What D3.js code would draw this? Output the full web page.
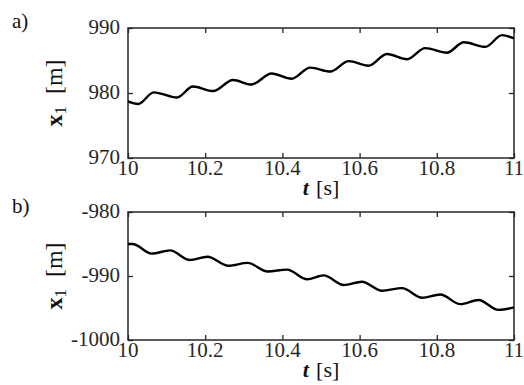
<!DOCTYPE html>
<html>
<head>
<meta charset="utf-8">
<script src="https://cdn.jsdelivr.net/npm/d3@7"></script>
<style>
  html, body { margin: 0; padding: 0; background: #fff; }
  svg { display: block; font-family: "Liberation Serif", "DejaVu Serif", serif; }
</style>
</head>
<body>
<svg id="chart" width="524" height="385"></svg>
<script>
// time samples (s) and position x1 (m)
const tA = [10.000, 10.026, 10.067, 10.127, 10.168, 10.221, 10.272, 10.320, 10.372, 10.424, 10.472,
            10.524, 10.572, 10.623, 10.671, 10.723, 10.770, 10.826, 10.870, 10.926, 10.969, 11.000];
const xA = [978.7, 978.3, 980.1, 979.3, 981.0, 980.3, 982.0, 981.3, 983.0, 982.2, 983.9,
            983.3, 984.9, 984.2, 986.0, 985.2, 986.9, 986.2, 987.8, 987.1, 988.9, 988.4];

const tB = [10.000, 10.012, 10.061, 10.109, 10.160, 10.206, 10.260, 10.310, 10.362, 10.412, 10.464,
            10.507, 10.559, 10.606, 10.658, 10.710, 10.762, 10.809, 10.861, 10.908, 10.960, 11.000];
const xB = [-985.0, -985.0, -986.5, -986.0, -987.5, -987.0, -988.4, -987.95, -989.3, -989.0, -990.5,
            -989.9, -991.4, -990.9, -992.3, -991.9, -993.4, -992.9, -994.4, -993.75, -995.3, -994.9];

const xTicks = [10, 10.2, 10.4, 10.6, 10.8, 11];
const yTicksA = [970, 980, 990];
const yTicksB = [-1000, -990, -980];

const svg = d3.select('#chart');

function panel(top, bottom, t, x, yDomain, yTicks, tag) {
  const left = 128, right = 514;
  const xs = d3.scaleLinear().domain([10, 11]).range([left, right]);
  const ys = d3.scaleLinear().domain(yDomain).range([bottom, top]);
  const g = svg.append('g');

  // inward ticks on all four sides
  const tickLen = 5;
  g.append('g').attr('transform', `translate(0,${bottom})`)
    .call(d3.axisTop(xs).tickValues(xTicks).tickSizeInner(tickLen).tickSizeOuter(0).tickFormat(''));
  g.append('g').attr('transform', `translate(0,${top})`)
    .call(d3.axisBottom(xs).tickValues(xTicks).tickSizeInner(tickLen).tickSizeOuter(0).tickFormat(''));
  g.append('g').attr('transform', `translate(${left},0)`)
    .call(d3.axisRight(ys).tickValues(yTicks).tickSizeInner(tickLen).tickSizeOuter(0).tickFormat(''));
  g.append('g').attr('transform', `translate(${right},0)`)
    .call(d3.axisLeft(ys).tickValues(yTicks).tickSizeInner(tickLen).tickSizeOuter(0).tickFormat(''));
  g.selectAll('.domain').remove();
  g.selectAll('.tick line').attr('stroke', '#262626').attr('stroke-width', 1.3);

  // frame
  g.append('rect').attr('x', left).attr('y', top).attr('width', right - left).attr('height', bottom - top)
    .attr('fill', 'none').attr('stroke', '#262626').attr('stroke-width', 1.5);

  // tick labels
  g.selectAll('.xl').data(xTicks).enter().append('text')
    .attr('x', d => xs(d)).attr('y', bottom + 17)
    .attr('text-anchor', 'middle').style('font-size', '21px').attr('fill', '#262626')
    .text(d => d3.format('~g')(d));
  g.selectAll('.yl').data(yTicks).enter().append('text')
    .attr('x', left - 8).attr('y', d => ys(d)).attr('dy', '0.3em')
    .attr('text-anchor', 'end').style('font-size', '21px').attr('fill', '#262626')
    .text(d => d);

  // data line
  const line = d3.line().x(d => xs(d[0])).y(d => ys(d[1])).curve(d3.curveMonotoneX);
  g.append('path').datum(t.map((v, i) => [v, x[i]]))
    .attr('d', line).attr('fill', 'none').attr('stroke', '#000').attr('stroke-width', 2.4);

  // x label: t [s]
  const xt = g.append('text').attr('x', (left + right) / 2).attr('y', bottom + 37)
    .attr('text-anchor', 'middle').style('font-size', '22px').attr('fill', '#111');
  xt.append('tspan').style('font-weight', 'bold').style('font-style', 'italic').text('t');
  xt.append('tspan').text('\u2004[s]');

  // y label: x1 [m]
  const yt = g.append('text')
    .attr('transform', `translate(62,${(top + bottom) / 2}) rotate(-90)`)
    .attr('text-anchor', 'middle').style('font-size', '24px').attr('fill', '#111');
  yt.append('tspan').style('font-weight', 'bold').text('x');
  yt.append('tspan').attr('dy', '0.25em').style('font-size', '17px').text('1');
  yt.append('tspan').attr('dy', '-0.18em').text('\u2002[m]');

  // panel tag
  svg.append('text').attr('x', 12).attr('y', top).attr('dy', tag === 'a)' ? '0' : '0.05em')
    .style('font-size', '21px').attr('fill', '#111').text(tag);
}

panel(28, 158, tA, xA, [970, 990], yTicksA, 'a)');
panel(212, 340, tB, xB, [-1000, -980], yTicksB, 'b)');
</script>
</body>
</html>
